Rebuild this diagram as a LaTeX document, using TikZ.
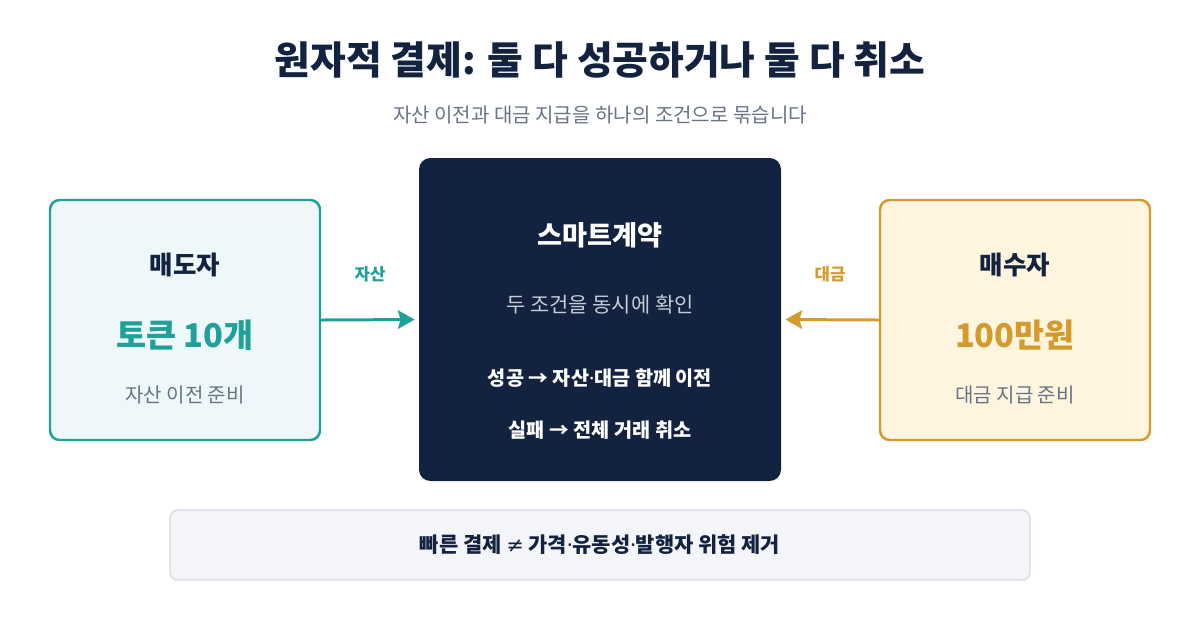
\documentclass[tikz,border=0pt]{standalone}
\usepackage{fontspec}
\setmainfont{Noto Sans CJK KR}
\newfontfamily\latinfont{Noto Sans}
\newfontfamily\symfont{DejaVu Sans}
\newcommand\mdot{{\latinfont ·}}
\usepackage{tikz}
\usetikzlibrary{positioning, arrows.meta}

\definecolor{navy}{HTML}{13233F}
\definecolor{tealc}{HTML}{1FA199}
\definecolor{goldc}{HTML}{D49A2E}
\definecolor{tealbg}{HTML}{EEF7F9}
\definecolor{goldbg}{HTML}{FEF5DF}
\definecolor{graytxt}{HTML}{687385}
\definecolor{softtxt}{HTML}{C3CCD8}
\definecolor{notebg}{HTML}{F3F5F9}
\definecolor{noteline}{HTML}{D5DAE1}

\begin{document}
\begin{tikzpicture}[x=0.02cm, y=-0.02cm,
  party/.style={draw, line width=1.4pt, rounded corners=5.5pt, minimum width=270*0.02cm, minimum height=240*0.02cm},
  title/.style={font=\fontsize{22.1}{26}\selectfont\bfseries, text=navy},
  heading/.style={font=\fontsize{14.5}{17}\selectfont\bfseries, text=navy},
  amount/.style={font=\fontsize{18.6}{22}\selectfont\bfseries},
  small/.style={font=\fontsize{11.4}{14}\selectfont, text=graytxt},
  flow/.style={line width=1.7pt, shorten >=4*0.02cm, -{Stealth[length=9.5pt, width=10.5pt, inset=1.5pt]}},
  flowlabel/.style={font=\fontsize{9.5}{12}\selectfont\bfseries}]
\useasboundingbox (0,0) rectangle (1200,630);
% Title and subtitle
\node[title] (head) at (600,60) {원자적 결제: 둘 다 성공하거나 둘 다 취소};
\node[small] (sub) at (600,115) {자산 이전과 대금 지급을 하나의 조건으로 묶습니다};
% Seller
\node[party, draw=tealc, fill=tealbg] (seller) at (185,320) {};
\node[heading] (sellername) at (185,265) {매도자};
\node[amount, text=tealc] (selleramt) at (185,335) {토큰 10개};
\node[small] (sellernote) at (185,395) {자산 이전 준비};
% Smart contract
\node[fill=navy, rounded corners=6.5pt, minimum width=362*0.02cm, minimum height=323*0.02cm] (contract) at (600,319.5) {};
\node[font=\fontsize{15.5}{18}\selectfont\bfseries, text=white] (cname) at (600,235) {스마트계약};
\node[font=\fontsize{11.9}{14}\selectfont, text=softtxt] (ccheck) at (600,305) {두 조건을 동시에 확인};
\node[font=\fontsize{11.2}{14}\selectfont\bfseries, text=white] (cok) at (600,378) {성공 → 자산\mdot 대금 함께 이전};
\node[font=\fontsize{11.2}{14}\selectfont\bfseries, text=white] (cfail) at (600,430) {실패 → 전체 거래 취소};
% Buyer
\node[party, draw=goldc, fill=goldbg] (buyer) at (1015,320) {};
\node[heading] (buyername) at (1015,265) {매수자};
\node[amount, text=goldc] (buyeramt) at (1015,335) {100만원};
\node[small] (buyernote) at (1015,395) {대금 지급 준비};
% Flows into the contract
\draw[flow, tealc] (seller.east) -- (contract.west);
\node[flowlabel, text=tealc] (assetlbl) at (370,274) {자산};
\draw[flow, goldc] (buyer.west) -- (contract.east);
\node[flowlabel, text=goldc] (paylbl) at (830,274) {대금};
% Bottom note
\node[draw=noteline, line width=0.8pt, fill=notebg, rounded corners=4.5pt, minimum width=860*0.02cm, minimum height=70*0.02cm] (note) at (600,545) {};
\node[font=\fontsize{11.9}{14}\selectfont\bfseries, text=navy] (notetxt) at (600,545) {빠른 결제 {\symfont\mdseries ≠} 가격\mdot 유동성\mdot 발행자 위험 제거};
\end{tikzpicture}
\end{document}
